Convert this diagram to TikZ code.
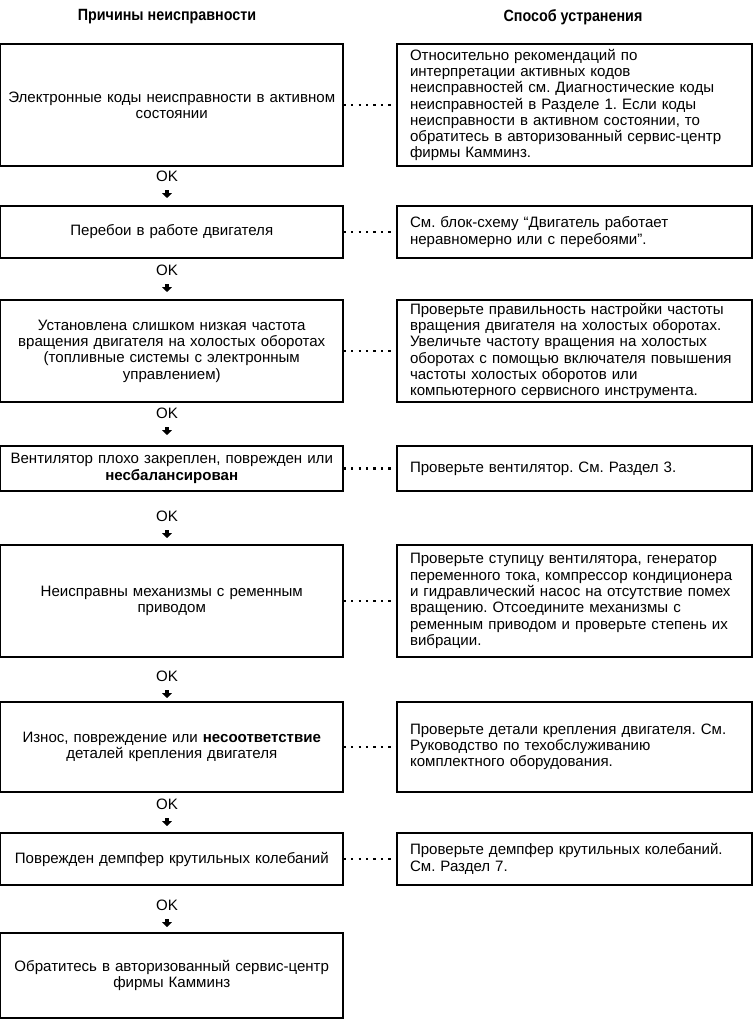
\documentclass[tikz,border=0pt]{standalone}
\usepackage{fontspec}
\setmainfont{Liberation Sans}
\newfontfamily\headfont[FakeStretch=0.88]{Liberation Sans}
\usetikzlibrary{arrows.meta}
\frenchspacing

\begin{document}
\begin{tikzpicture}[x=0.75pt, y=-0.75pt,
    head/.style={font=\headfont\bfseries\fontsize{12.2}{14}\selectfont, inner sep=0pt},
    cause/.style={draw, line width=0.9pt, minimum width=256.9pt, text width=250pt, align=center,
        inner sep=0pt, font=\fontsize{11.3}{12.2}\selectfont},
    remedy/.style={draw, line width=0.9pt, minimum width=266.25pt, text width=246.75pt, align=left,
        inner sep=0pt, font=\fontsize{11.3}{12.2}\selectfont},
    ok/.style={inner sep=0pt, font=\fontsize{11.3}{12.2}\selectfont},
    okarrow/.style={line width=3pt, -{Triangle[width=7.2pt,length=3.6pt]}, shorten <=6.5pt},
    dots/.style={line width=1.7pt, dash pattern=on 1.7pt off 3.9pt}
]
\useasboundingbox (0,0) rectangle (753,1023);

\node[head] (H1) at (167,17) {Причины неисправности};
\node[head] (H2) at (573,17) {Способ устранения};

\node[cause, minimum height=91.5pt] (C1) at (171.75,105) {
    Электронные коды неисправности в активном\\ состоянии};
\node[remedy, minimum height=91.5pt] (R1) at (574.5,105) {
    Относительно рекомендаций по\\
    интерпретации активных кодов\\
    неисправностей см. Диагностические коды\\
    неисправностей в Разделе 1. Если коды\\
    неисправности в активном состоянии, то\\
    обратитесь в авторизованный сервис-центр\\
    фирмы Камминз.};

\node[cause, minimum height=39pt] (C2) at (171.75,232) {
    Перебои в работе двигателя};
\node[remedy, minimum height=39pt] (R2) at (574.5,232) {
    См. блок-схему “Двигатель работает\\
    неравномерно или с перебоями”.};

\node[cause, minimum height=76.5pt] (C3) at (171.75,351) {
    Установлена слишком низкая частота\\
    вращения двигателя на холостых оборотах\\
    (топливные системы с электронным\\
    управлением)};
\node[remedy, minimum height=76.5pt] (R3) at (574.5,351) {
    Проверьте правильность настройки частоты\\
    вращения двигателя на холостых оборотах.\\
    Увеличьте частоту вращения на холостых\\
    оборотах с помощью включателя повышения\\
    частоты холостых оборотов или\\
    компьютерного сервисного инструмента.};

\node[cause, minimum height=33.75pt] (C4) at (171.75,468.5) {
    Вентилятор плохо закреплен, поврежден или\\
    \textbf{несбалансирован}};
\node[remedy, minimum height=33.75pt] (R4) at (574.5,468.5) {
    Проверьте вентилятор. См. Раздел 3.};

\node[cause, minimum height=84pt] (C5) at (171.75,601) {
    Неисправны механизмы с ременным\\
    приводом};
\node[remedy, minimum height=84pt] (R5) at (574.5,601) {
    Проверьте ступицу вентилятора, генератор\\
    переменного тока, компрессор кондиционера\\
    и гидравлический насос на отсутствие помех\\
    вращению. Отсоедините механизмы с\\
    ременным приводом и проверьте степень их\\
    вибрации.};

\node[cause, minimum height=67.5pt] (C6) at (171.75,747) {
    Износ, повреждение или \textbf{несоответствие}\\
    деталей крепления двигателя};
\node[remedy, minimum height=67.5pt] (R6) at (574.5,747) {
    Проверьте детали крепления двигателя. См.\\
    Руководство по техобслуживанию\\
    комплектного оборудования.};

\node[cause, minimum height=39pt] (C7) at (171.75,859) {
    Поврежден демпфер крутильных колебаний};
\node[remedy, minimum height=39pt] (R7) at (574.5,859) {
    Проверьте демпфер крутильных колебаний.\\
    См. Раздел 7.};

\node[cause, minimum height=63.75pt] (C8) at (171.75,975.5) {
    Обратитесь в авторизованный сервис-центр\\
    фирмы Камминз};

\node[ok] (K1) at (167,176) {OK};
\node[ok] (K2) at (167,270) {OK};
\node[ok] (K3) at (167,413) {OK};
\node[ok] (K4) at (167,516) {OK};
\node[ok] (K5) at (167,676) {OK};
\node[ok] (K6) at (167,804) {OK};
\node[ok] (K7) at (167,905) {OK};

\coordinate (E1) at (167,198);
\coordinate (E2) at (167,292);
\coordinate (E3) at (167,435);
\coordinate (E4) at (167,538);
\coordinate (E5) at (167,698);
\coordinate (E6) at (167,826);
\coordinate (E7) at (167,927);

\draw[okarrow] (K1) -- (E1);
\draw[okarrow] (K2) -- (E2);
\draw[okarrow] (K3) -- (E3);
\draw[okarrow] (K4) -- (E4);
\draw[okarrow] (K5) -- (E5);
\draw[okarrow] (K6) -- (E6);
\draw[okarrow] (K7) -- (E7);

\draw[dots] (C1) -- (R1);
\draw[dots] (C2) -- (R2);
\draw[dots] (C3) -- (R3);
\draw[dots] (C4) -- (R4);
\draw[dots] (C5) -- (R5);
\draw[dots] (C6) -- (R6);
\draw[dots] (C7) -- (R7);
\end{tikzpicture}
\end{document}
